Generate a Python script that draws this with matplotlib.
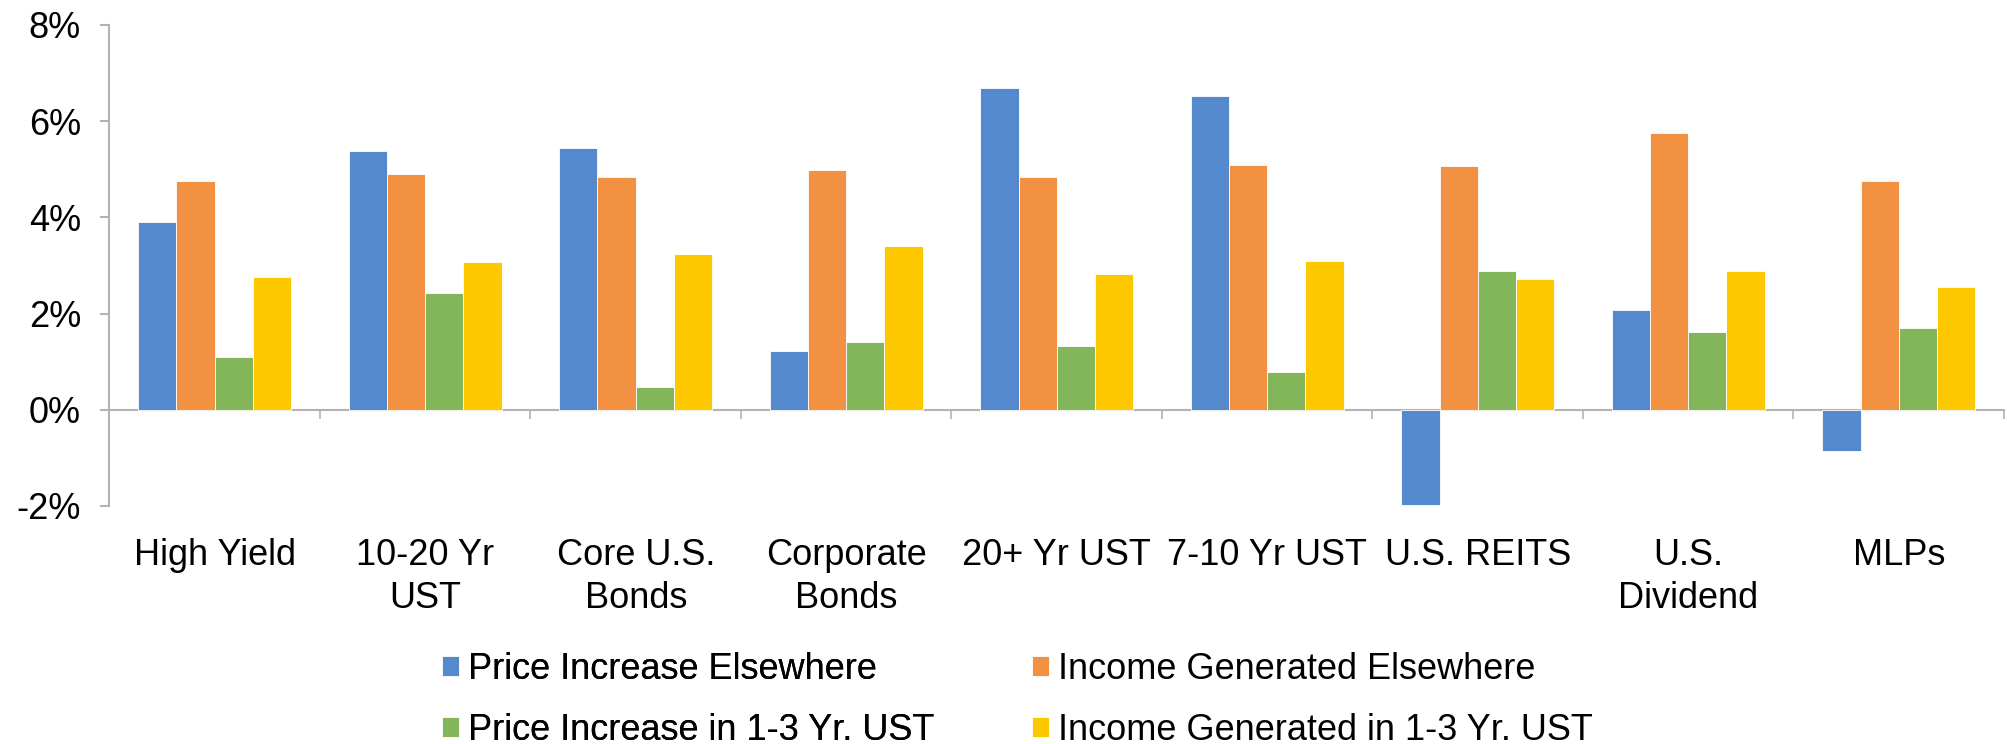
import matplotlib.pyplot as plt
import numpy as np

categories = ["High Yield", "10-20 Yr\nUST", "Core U.S.\nBonds", "Corporate\nBonds",
              "20+ Yr UST", "7-10 Yr UST", "U.S. REITS", "U.S.\nDividend", "MLPs"]
price_elsewhere = [3.91, 5.39, 5.45, 1.23, 6.69, 6.52, -1.97, 2.08, -0.85]
income_elsewhere = [4.76, 4.90, 4.83, 4.98, 4.83, 5.09, 5.06, 5.76, 4.76]
price_1_3 = [1.10, 2.42, 0.47, 1.40, 1.33, 0.79, 2.88, 1.62, 1.71]
income_1_3 = [2.77, 3.08, 3.23, 3.40, 2.83, 3.10, 2.72, 2.88, 2.56]
series_names = ["Price Increase Elsewhere", "Income Generated Elsewhere",
                "Price Increase in 1-3 Yr. UST", "Income Generated in 1-3 Yr. UST"]
y_ticks = [-2, 0, 2, 4, 6, 8]
y_tick_labels = ["-2%", "0%", "2%", "4%", "6%", "8%"]

colors = ["#5589CD", "#F29142", "#83B65A", "#FDC800"]
axis_gray = "#B3B3B3"

plt.rcParams['font.family'] = ['Liberation Sans', 'DejaVu Sans']

fig = plt.figure(figsize=(20.08, 7.44), dpi=100)
ax = fig.add_axes([0.0545, 0.3199, 0.998 - 0.0545, 0.9664 - 0.3199])

x = np.arange(len(categories))
w = 0.1815
all_series = [price_elsewhere, income_elsewhere, price_1_3, income_1_3]
bars = []
for i, vals in enumerate(all_series):
    b = ax.bar(x + (i - 1.5) * w, vals, w, color=colors[i], edgecolor="white",
               linewidth=0.6, label=series_names[i], zorder=2)
    bars.append(b)

ax.set_xlim(-0.5, len(categories) - 0.5)
ax.set_ylim(-2, 8)
ax.set_yticks(y_ticks)
ax.set_yticklabels(y_tick_labels)
ax.set_xticks(x)
ax.set_xticklabels(categories, linespacing=1.3)

for s in ["top", "right", "bottom"]:
    ax.spines[s].set_visible(False)
ax.spines["left"].set_color(axis_gray)
ax.spines["left"].set_linewidth(1.5)
ax.tick_params(axis="y", colors=axis_gray, labelcolor="black", length=6.5,
               width=1.5, pad=14, labelsize=26)
ax.tick_params(axis="x", length=0, pad=23, labelsize=26)

# zero line with category separator ticks
sec = ax.secondary_xaxis(0.2)
sec.set_xticks(np.arange(len(categories) + 1) - 0.5)
sec.set_xticklabels([])
sec.spines["bottom"].set_color(axis_gray)
sec.spines["bottom"].set_linewidth(1.5)
sec.tick_params(axis="x", colors=axis_gray, length=6.5, width=1.2, direction="out")

leg_kw = dict(loc="upper left", frameon=False, fontsize=26, handlelength=0.47,
              handleheight=0.47, handletextpad=0.25, labelspacing=0.72,
              borderpad=0, borderaxespad=0)
leg1 = fig.legend([bars[0], bars[2]], [series_names[0], series_names[2]],
                  bbox_to_anchor=(442 / 2008, 0.1236), **leg_kw)
leg2 = fig.legend([bars[1], bars[3]], [series_names[1], series_names[3]],
                  bbox_to_anchor=(1032 / 2008, 0.1236), **leg_kw)
fig.add_artist(leg1)

fig.savefig("out.png", dpi=100)
